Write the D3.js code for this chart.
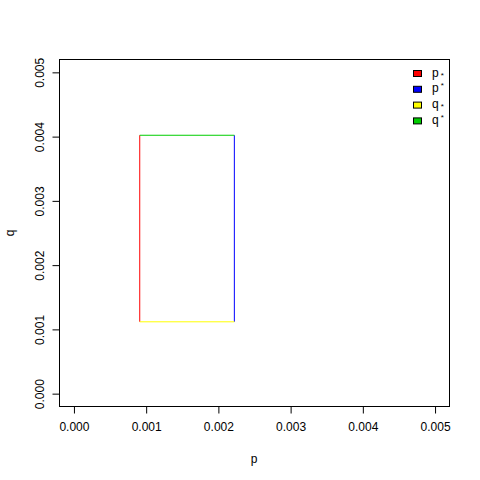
<!DOCTYPE html>
<html><head><meta charset="utf-8">
<script src="https://cdn.jsdelivr.net/npm/d3@7"></script>
<style>body{margin:0;background:#fff}svg{display:block}text{font-family:"Liberation Sans",Arial,sans-serif}</style>
</head><body>
<script>
const xTicks = [0, 0.001, 0.002, 0.003, 0.004, 0.005];
const yTicks = [0, 0.001, 0.002, 0.003, 0.004, 0.005];
const pLow = 0.000911, pHigh = 0.002221, qLow = 0.001118, qHigh = 0.004021;
const legendNames = [["p", "*", "sub"], ["p", "*", "sup"], ["q", "*", "sub"], ["q", "*", "sup"]];
const legendColors = ["#FF0000", "#0000FF", "#FFFF00", "#00CD00"];
const segments = [
  {x1: pLow, y1: qLow, x2: pLow, y2: qHigh, c: "#FF0000"},
  {x1: pHigh, y1: qLow, x2: pHigh, y2: qHigh, c: "#0000FF"},
  {x1: pLow, y1: qLow, x2: pHigh, y2: qLow, c: "#FFFF00"},
  {x1: pLow, y1: qHigh, x2: pHigh, y2: qHigh, c: "#00CD00"}
];

const W = 480, H = 480;
const svg = d3.select("body").append("svg").attr("width", W).attr("height", H);
const x = d3.scaleLinear().domain([-0.0002, 0.0052]).range([59.5, 449.5]);
const y = d3.scaleLinear().domain([-0.0002, 0.0052]).range([406.5, 59.5]);

svg.selectAll("line.seg").data(segments).enter().append("line")
  .attr("x1", d => x(d.x1)).attr("y1", d => y(d.y1))
  .attr("x2", d => x(d.x2)).attr("y2", d => y(d.y2))
  .attr("stroke", d => d.c).attr("stroke-width", 1);

svg.append("rect").attr("x", 59.5).attr("y", 59.5).attr("width", 390).attr("height", 347)
  .attr("fill", "none").attr("stroke", "#000");

const fmt = d3.format(".3f");
const gx = svg.append("g").attr("transform", "translate(0,406.5)")
  .call(d3.axisBottom(x).tickValues(xTicks).tickFormat(fmt).tickSize(7).tickSizeOuter(0).tickPadding(9));
gx.select(".domain").attr("d", `M${x(0)},0H${x(0.005)}`);
const gy = svg.append("g").attr("transform", "translate(59.5,0)")
  .call(d3.axisLeft(y).tickValues(yTicks).tickFormat(fmt).tickSize(7).tickSizeOuter(0));
gy.select(".domain").attr("d", `M0,${y(0)}V${y(0.005)}`);
gy.selectAll(".tick text").attr("transform", "rotate(-90)").attr("x", 0).attr("y", -20)
  .attr("dy", "0.35em").attr("text-anchor", "middle");
svg.selectAll(".tick text").attr("font-size", 12).attr("fill", "#000").attr("font-family", "Liberation Sans, Arial, sans-serif");
svg.selectAll(".tick line").attr("stroke", "#000");

svg.append("text").attr("x", 254).attr("y", 463).attr("text-anchor", "middle").attr("font-size", 12).attr("fill", "#000").text("p");
svg.append("text").attr("transform", "translate(14,233) rotate(-90)").attr("text-anchor", "middle").attr("font-size", 12).attr("fill", "#000").text("q");

const lg = svg.append("g");
legendNames.forEach((n, i) => {
  const cy = 73.5 + i * 15.8;
  lg.append("rect").attr("x", 413.5).attr("y", cy - 3).attr("width", 8).attr("height", 6)
    .attr("fill", legendColors[i]).attr("stroke", "#000").attr("stroke-width", 1);
  const t = lg.append("text").attr("x", 432).attr("y", cy + 3).attr("font-size", 12).attr("fill", "#000");
  t.append("tspan").text(n[0]);
  t.append("tspan").attr("font-size", 8).attr("dx", 2).attr("dy", n[2] === "sub" ? 1 : -4).text(n[1]);
});
</script>
</body></html>
